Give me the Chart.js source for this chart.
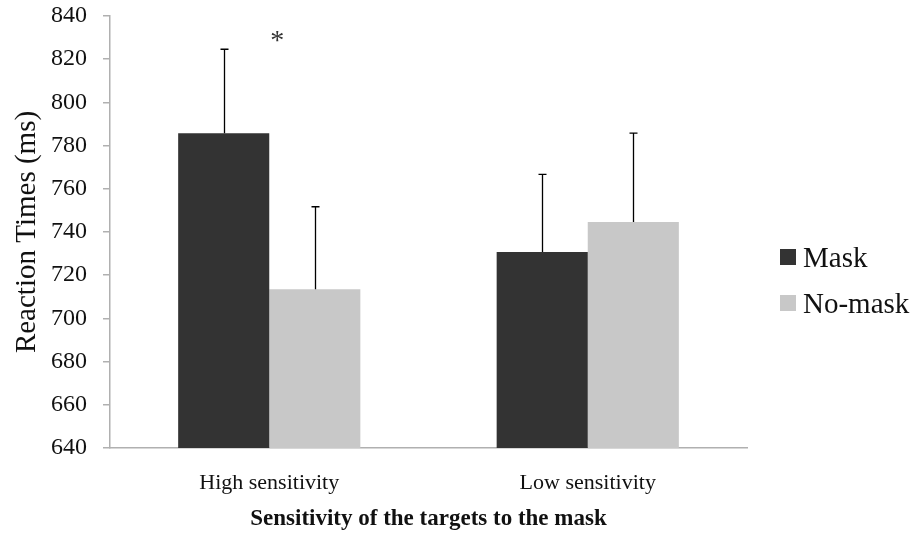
<!DOCTYPE html>
<html>
<head>
<meta charset="utf-8">
<script src="https://cdn.jsdelivr.net/npm/chart.js@4/dist/chart.umd.min.js"></script>
<style>
html,body{margin:0;padding:0;background:#fff;}
#wrap{width:919px;height:550px;position:relative;}
</style>
</head>
<body>
<div id="wrap"><canvas id="c" width="919" height="550"></canvas></div>
<script>
const categories = ["High sensitivity", "Low sensitivity"];
const seriesNames = ["Mask", "No-mask"];
const maskValues = [785.7, 730.7];
const noMaskValues = [713.5, 744.6];
const maskErrorTop = [824.6, 766.7];
const noMaskErrorTop = [751.7, 785.8];
const yTicks = [640, 660, 680, 700, 720, 740, 760, 780, 800, 820, 840];
const significance = [{category: 0, value: 830, text: "*"}];

const FONT = "'Liberation Serif', 'DejaVu Serif', serif";
const colors = ["#333333", "#c8c8c8"];
const errTops = [maskErrorTop, noMaskErrorTop];

const errorBarPlugin = {
  id: 'errorBars',
  afterDatasetsDraw(chart) {
    const ctx = chart.ctx;
    const y = chart.scales.y;
    ctx.save();
    ctx.strokeStyle = '#000';
    ctx.lineWidth = 1.3;
    chart.data.datasets.forEach((ds, di) => {
      const meta = chart.getDatasetMeta(di);
      meta.data.forEach((bar, i) => {
        const top = y.getPixelForValue(errTops[di][i]);
        const x = Math.round(bar.x) + 0.5;
        ctx.beginPath();
        ctx.moveTo(x, bar.y);
        ctx.lineTo(x, top);
        ctx.moveTo(x - 4, top);
        ctx.lineTo(x + 4, top);
        ctx.stroke();
      });
    });
    // significance marks
    ctx.fillStyle = '#333';
    ctx.font = "28px " + FONT;
    ctx.textAlign = 'center';
    ctx.textBaseline = 'middle';
    significance.forEach(s => {
      const xs = chart.scales.x.getPixelForValue(s.category);
      ctx.fillText(s.text, xs + 8, y.getPixelForValue(s.value) + 4);
    });
    // legend
    const lx = 780, ly0 = 249, gap = 46;
    ctx.textAlign = 'left';
    ctx.textBaseline = 'middle';
    ctx.font = "29px " + FONT;
    chart.data.datasets.forEach((ds, di) => {
      const yy = ly0 + di * gap;
      ctx.fillStyle = ds.backgroundColor;
      ctx.fillRect(lx, yy, 16, 16);
      ctx.fillStyle = '#111';
      ctx.fillText(ds.label, lx + 23, yy + 10);
    });
    ctx.restore();
  }
};

new Chart(document.getElementById('c'), {
  type: 'bar',
  data: {
    labels: categories,
    datasets: [
      {label: seriesNames[0], data: maskValues, backgroundColor: colors[0]},
      {label: seriesNames[1], data: noMaskValues, backgroundColor: colors[1]}
    ]
  },
  options: {
    responsive: false,
    animation: false,
    devicePixelRatio: 1,
    layout: {padding: {left: 0, right: 172, top: 16, bottom: 0}},
    datasets: {bar: {barPercentage: 1.0, categoryPercentage: 0.572}},
    plugins: {
      legend: {display: false},
      tooltip: {enabled: false}
    },
    scales: {
      x: {
        afterFit(scale) { scale.height = 102; scale.paddingLeft = 0; scale.paddingRight = 0; },
        grid: {display: false},
        border: {display: true, color: '#b0b0b0', width: 1.5},
        ticks: {color: '#111', font: {family: FONT, size: 22}, padding: 14},
        title: {display: true, text: 'Sensitivity of the targets to the mask', color: '#111',
                font: {family: FONT, size: 23, weight: 'bold'}, padding: {top: 0, bottom: 17}}
      },
      y: {
        min: 640, max: 840,
        afterBuildTicks(scale) { scale.ticks = yTicks.map(v => ({value: v})); },
        afterFit(scale) { scale.width = 110; scale.paddingTop = 0; scale.paddingBottom = 0; },
        grid: {drawOnChartArea: false, drawTicks: true, tickLength: 7, color: '#b0b0b0', lineWidth: 1.5},
        border: {display: true, color: '#b0b0b0', width: 1.5},
        ticks: {color: '#111', font: {family: FONT, size: 24}, padding: 16},
        title: {display: true, text: 'Reaction Times (ms)', color: '#111',
                font: {family: FONT, size: 29}, padding: {top: 10, bottom: 0}}
      }
    }
  },
  plugins: [errorBarPlugin]
});
</script>
</body>
</html>
